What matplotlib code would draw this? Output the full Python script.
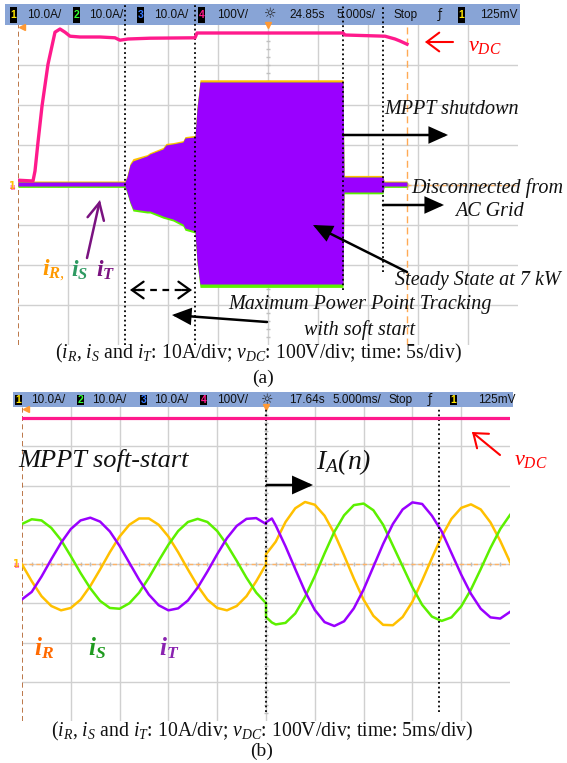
import matplotlib
matplotlib.use('Agg')
import matplotlib.pyplot as plt
from matplotlib.patches import Rectangle, FancyArrowPatch

# ---------------- data ----------------
# Panel (a): time in s (5 s/div), currents in A (10 A/div), vDC in V (100 V/div)
vdc_a_t = [0, 1.5, 1.7, 2.0, 2.4, 3.0, 3.7, 4.2, 4.7, 5.2, 6.2, 8.2, 9.7, 10.2, 11.0,
           13.2, 17.7, 17.9, 28.2, 32.5, 32.7, 36.7, 37.7, 38.2, 38.9]
vdc_a = [12, 10, 35, 107, 197, 302, 382, 390, 382, 372, 370, 370, 368, 362, 365,
         367, 368, 380, 380, 380, 375, 372, 365, 360, 352]

env_t = [0, 10.7, 10.9, 11.2, 11.5, 12.9, 13.2, 14.5, 14.8, 15.5, 16.5, 16.7, 17.7,
         17.9, 18.2, 32.5, 32.6, 36.5, 36.6, 38.9]
iT_top = [0.75, 0.75, 2.0, 5.0, 6.0, 7.25, 7.75, 9.0, 10.0, 10.25, 10.75, 11.75, 12.0,
          19.0, 25.75, 25.75, 2.0, 2.0, 0.75, 0.75]
iT_bot = [-0.25, -0.25, -1.75, -4.25, -6.0, -6.5, -6.5, -7.75, -8.0, -8.5, -9.75, -10.75,
          -11.5, -19.0, -24.75, -24.75, -1.75, -1.75, -0.25, -0.25]
iR_top = [1.0, 1.0, 2.4, 5.4, 6.6, 7.6, 8.1, 9.4, 10.4, 10.6, 11.1, 12.1, 12.4,
          19.4, 26.3, 26.3, 2.4, 2.4, 1.0, 1.0]
iS_bot = [-0.6, -0.6, -2.1, -4.6, -6.5, -7.0, -7.0, -8.3, -8.5, -9.0, -10.3, -11.3,
          -12.0, -19.4, -25.6, -25.6, -2.2, -2.2, -0.6, -0.6]
events_a = [10.7, 17.7, 32.5, 36.5]          # dotted markers (s)
events_a_end = [0.0, 0.0, 0.172, 0.228]       # lower end (axes fraction)
cursor_a = 38.9

# Panel (b): time in ms (5 ms/div), currents in A, vDC in V
t_b = [0, 1, 2, 3, 4, 5, 6, 7, 8, 9, 10, 11, 12, 13, 14, 15, 16, 17, 18, 19, 20, 21, 22,
       23, 24, 25, 25, 25.6, 26, 27, 28, 29, 30, 31, 32, 33, 34, 35, 36, 37, 38, 39, 40,
       41, 42, 43, 44, 45, 46, 47, 48, 49, 50]
iR_b = [-0.1, -4.4, -8.2, -10.7, -11.8, -11.2, -9.1, -5.6, -1.4, 3.0, 7.0, 10.0, 11.6,
        11.6, 10.0, 7.0, 3.0, -1.4, -5.6, -9.1, -11.2, -11.8, -10.7, -8.2, -4.4,
        -0.1, 2.5, 4.4,
        5.7, 10.7, 14.2, 15.8, 15.1, 12.3, 7.8, 2.2, -3.7, -9.1, -13.2, -15.5, -15.6,
        -13.5, -9.6, -4.2, 1.5, 7.0, 11.5, 14.3, 15.2, 13.9, 10.6, 5.9, 0.5]
iS_b = [10.2, 11.4, 11.1, 9.2, 6.1, 2.0, -2.3, -6.2, -9.4, -11.2, -11.4, -10.0, -7.3,
        -3.5, 0.8, 4.9, 8.4, 10.7, 11.5, 10.7, 8.4, 4.9, 0.8, -3.5, -7.3,
        -10.0, -13.5, -14.9,
        -15.4, -15.0, -12.6, -8.4, -3.1, 2.7, 8.2, 12.4, 15.0, 15.4, 13.7, 10.0, 4.7,
        -0.6, -5.9, -10.4, -13.4, -14.5, -13.6, -10.8, -6.5, -1.3, 4.1, 8.9, 12.5]
iT_b = [-9.0, -7.1, -3.2, 1.2, 5.4, 8.9, 11.1, 11.8, 10.8, 8.3, 4.6, 0.3, -4.0, -7.8,
        -10.5, -11.8, -11.3, -9.3, -6.0, -1.9, 2.5, 6.6, 9.7, 11.5, 11.7,
        10.2, 10.6, 11.6,
        9.8, 4.5, -1.3, -7.0, -11.7, -14.8, -15.8, -14.6, -11.3, -6.5, -0.7, 5.1, 10.2,
        13.9, 15.7, 15.3, 12.3, 8.3, 2.8, -2.7, -7.6, -11.4, -13.6, -13.9, -12.2]
vdc_b_t = [0, 50]
vdc_b = [372, 372]
events_b = [25.0, 42.7]

bar_a = ['10.0A/', '10.0A/', '10.0A/', '100V/', '24.85s', '5.000s/', 'Stop', '125mV']
bar_b = ['10.0A/', '10.0A/', '10.0A/', '100V/', '17.64s', '5.000ms/', 'Stop', '125mV']

# ---------------- style ----------------
W, H = 567, 763
plt.rcParams['font.family'] = ['Liberation Serif', 'DejaVu Serif']
plt.rcParams['mathtext.fontset'] = 'custom'
plt.rcParams['mathtext.rm'] = 'Liberation Serif:italic'
plt.rcParams['mathtext.it'] = 'Liberation Serif:italic'
plt.rcParams['mathtext.bf'] = 'Liberation Serif:bold:italic'

C_R, C_S, C_T, C_V = '#ffc000', '#5cf000', '#9a00ff', '#ff1a8c'
GRID = '#d0d0d0'
BARC = '#88a4d6'

fig = plt.figure(figsize=(W / 100, H / 100), dpi=100)


def rect(x0, y0, x1, y1):
    return [x0 / W, 1 - y1 / H, (x1 - x0) / W, (y1 - y0) / H]


def scope_axes(x0, y0, x1, y1, xmax):
    ax = fig.add_axes(rect(x0, y0, x1, y1), zorder=2)
    ax.patch.set_alpha(0)
    ax.set_xlim(0, xmax)
    ax.set_ylim(-40, 40)
    for s in ax.spines.values():
        s.set_visible(False)
    ax.set_xticks([])
    ax.set_yticks([])
    for k in range(1, 10):
        ax.axvline(xmax * k / 10, color=GRID, lw=1.0, zorder=0)
    for k in range(1, 8):
        ax.axhline(-40 + 10 * k, color=GRID, lw=1.0, zorder=0)
    # centre tick marks
    tx = [xmax * k / 50 for k in range(1, 50)]
    ax.plot(tx, [0] * len(tx), ls='none', marker='|', ms=3, color='#c0c0c0', zorder=0)
    ty = [-40 + 2 * k for k in range(1, 40)]
    ax.plot([xmax / 2] * len(ty), ty, ls='none', marker='_', ms=3, color='#c0c0c0', zorder=0)
    ax.axhline(0, color='#ffb366', lw=1.0, ls=(0, (3, 2)), zorder=1)
    ax.axvline(0, color='#b0602a', lw=1.2, ls=(0, (3, 2)), zorder=1)
    ax.plot([xmax / 2], [40], marker='v', ms=5, color='#ff9933', clip_on=False, zorder=6)
    ax.plot([0.4 * xmax / 50], [39.5], marker='<', ms=4, color='#ff9933', clip_on=False, zorder=6)
    axv = ax.twinx()
    axv.set_zorder(3)
    axv.patch.set_visible(False)
    axv.set_ylim(-400, 400)
    axv.axis('off')
    return ax, axv


def status_bar(x0, y0, x1, y1, vals, pos):
    b = fig.add_axes(rect(x0, y0, x1, y1), zorder=1)
    b.set_xlim(x0, x1)
    b.set_ylim(y1, y0)
    b.axis('off')
    b.add_patch(Rectangle((x0, y0), x1 - x0, y1 - y0, color=BARC, lw=0))
    yc = (y0 + y1) / 2
    fnt = dict(family='Liberation Sans', fontsize=8.5, va='center', ha='left', color='#101010')
    boxes = [(pos[0], '1', '#ffe600'), (pos[2], '2', '#33ff33'), (pos[4], '3', '#3377ff'),
             (pos[6], '4', '#ff1a8c'), (pos[14], '1', '#ffe600')]
    for bx, lab, col in boxes:
        b.add_patch(Rectangle((bx, y0 + 3), 7, (y1 - y0) - 5, color='black', lw=0))
        b.text(bx + 3.5, yc + 0.5, lab, family='Liberation Sans', fontsize=7.5, fontweight='bold',
               color=col, ha='center', va='center')
    tpos = [pos[1], pos[3], pos[5], pos[7], pos[9], pos[10], pos[11], pos[15]]
    for tx, s in zip(tpos, vals):
        b.text(tx, yc + 0.5, s, **fnt)
    b.text(pos[8], yc, '\u263c', family='DejaVu Sans', fontsize=10, ha='center', va='center', color='#202020')
    b.text(pos[12], yc, '\u0192', family='DejaVu Sans', fontsize=8.5, ha='center', va='center', color='#101010')
    return b


# ---------------- panel (a) ----------------
status_bar(5, 4, 520, 25, bar_a,
           [10, 27, 73, 89, 137, 154, 198, 217, 270, 289, 336, 394, 440, 0, 458, 480])
axa, axa_v = scope_axes(18, 25, 518, 345, 50)
axa.fill_between(env_t, iR_top, iT_bot, color=C_R, lw=0, zorder=2)
axa.fill_between(env_t, iT_top, iS_bot, color=C_S, lw=0, zorder=2)
axa.fill_between(env_t, iT_top, iT_bot, color=C_T, lw=0, zorder=3)
axa_v.plot(vdc_a_t, vdc_a, color=C_V, lw=2.4, solid_joinstyle='round')
tr = axa.get_xaxis_transform()
for ev, ye in zip(events_a, events_a_end):
    axa.plot([ev, ev], [ye, 1.0625], transform=tr, color='black', lw=1.3, ls=(0, (1, 1.6)),
             clip_on=False, zorder=7)
axa.plot([cursor_a, cursor_a], [0, 1], transform=tr, color='#ffaa55', lw=1.0, ls=(0, (5, 3)), zorder=1)

# ---------------- panel (b) ----------------
status_bar(13, 392, 513, 407, bar_b,
           [15, 31, 77, 92, 140, 154, 200, 217, 267, 289, 332, 389, 430, 0, 450, 478])
axb, axb_v = scope_axes(22, 407, 510, 721, 50)
axb.plot(t_b, iR_b, color=C_R, lw=1.8, zorder=3)
axb.plot(t_b, iS_b, color=C_S, lw=1.8, zorder=3)
axb.plot(t_b, iT_b, color=C_T, lw=1.8, zorder=4)
axb_v.plot(vdc_b_t, vdc_b, color=C_V, lw=2.3)
trb = axb.get_xaxis_transform()
for ev in events_b:
    axb.plot([ev, ev], [0.03, 1], transform=trb, color='black', lw=1.3, ls=(0, (1, 1.6)), zorder=7)

# ---------------- annotations (pixel overlay) ----------------
ov = fig.add_axes([0, 0, 1, 1], zorder=10)
ov.set_xlim(0, W)
ov.set_ylim(H, 0)
ov.axis('off')
ov.patch.set_alpha(0)


def arrow(tail, tip, color='black', style='-|>,head_length=1.0,head_width=0.45', lw=1.8, ms=11, ls='-'):
    ov.add_patch(FancyArrowPatch(tail, tip, arrowstyle=style, mutation_scale=ms, color=color,
                                 lw=lw, linestyle=ls, shrinkA=0, shrinkB=0, joinstyle='miter'))


ital = dict(style='italic', fontsize=14.5, ha='center', va='center', color='#111111')
openred = '->,head_length=0.6,head_width=0.45'

# (a)
arrow((453, 42), (425, 42), color='red', style=openred, lw=1.5, ms=15)
ov.text(468, 46, r'$v_{DC}$', color='red', fontsize=16, ha='left', va='center')
ov.text(452, 110, 'MPPT shutdown', **ital)
arrow((343, 135), (448, 135))
ov.text(487, 188, 'Disconnected from', **ital)
ov.text(489, 212, 'AC Grid', **ital)
arrow((383, 205), (444, 205))
ov.text(478, 281, 'Steady State at 7 kW', **ital)
arrow((407, 272), (313, 225))
ov.text(360, 305, 'Maximum Power Point Tracking', **ital)
ov.text(360, 330, 'with soft start', **ital)
arrow((267, 322), (172, 315))
ov.plot([138, 185], [290, 290], color='black', lw=1.6, ls=(0, (3, 2.5)))
arrow((140, 290), (130, 290), style='->,head_length=0.7,head_width=0.5', lw=1.6, ms=12)
arrow((182, 290), (192, 290), style='->,head_length=0.7,head_width=0.5', lw=1.6, ms=12)
arrow((87, 258), (100, 200), color='#7a1280', style='->,head_length=0.8,head_width=0.4', lw=1.8, ms=15)
ov.text(42, 270, r'$\mathbf{i}_{\mathbf{R},}$', color='#ff9900', fontsize=17, ha='left', va='center')
ov.text(71, 270, r'$\mathbf{i}_{\mathbf{S}}$', color='#2e9a62', fontsize=17, ha='left', va='center')
ov.text(96, 270, r'$\mathbf{i}_{\mathbf{T}}$', color='#7a1280', fontsize=17, ha='left', va='center')
ov.text(258, 353, r'($i_R$, $i_S$ and $i_T$: 10A/div; $v_{DC}$: 100V/div; time: 5s/div)',
        fontsize=14.2, ha='center', va='center', color='#111111')
ov.text(263, 378, '(a)', fontsize=14, ha='center', va='center', color='#111111')
# ground markers
for yy in (186, 564):
    xx = 12 if yy == 186 else 16
    ov.text(xx, yy, '1', color=C_R, fontsize=7, family='DejaVu Sans', fontweight='bold', ha='center', va='center')
    ov.text(xx, yy + 1, 'u', color=C_V, fontsize=6, family='DejaVu Sans', ha='center', va='center', alpha=0.8)

# (b)
ov.text(18, 460, 'MPPT soft-start', style='italic', fontsize=19, ha='left', va='center', color='#111111')
ov.text(316, 462, r'$I_A(n)$', fontsize=20, ha='left', va='center', color='#111111')
arrow((267, 485), (313, 485), ms=12)
arrow((500, 455), (472, 432), color='red', style=openred, lw=1.5, ms=15)
ov.text(514, 461, r'$v_{DC}$', color='red', fontsize=16, ha='left', va='center')
ov.text(34, 648, r'$\mathbf{i}_{\mathbf{R}}$', color='#ff6a00', fontsize=18, ha='left', va='center')
ov.text(88, 648, r'$\mathbf{i}_{\mathbf{S}}$', color='#1f9a1f', fontsize=18, ha='left', va='center')
ov.text(159, 648, r'$\mathbf{i}_{\mathbf{T}}$', color='#8a22b0', fontsize=18, ha='left', va='center')
ov.text(262, 731, r'($i_R$, $i_S$ and $i_T$: 10A/div; $v_{DC}$: 100V/div; time: 5ms/div)',
        fontsize=14.2, ha='center', va='center', color='#111111')
ov.text(262, 751, '(b)', fontsize=14, ha='center', va='center', color='#111111')

fig.savefig('out.png', dpi=100)
